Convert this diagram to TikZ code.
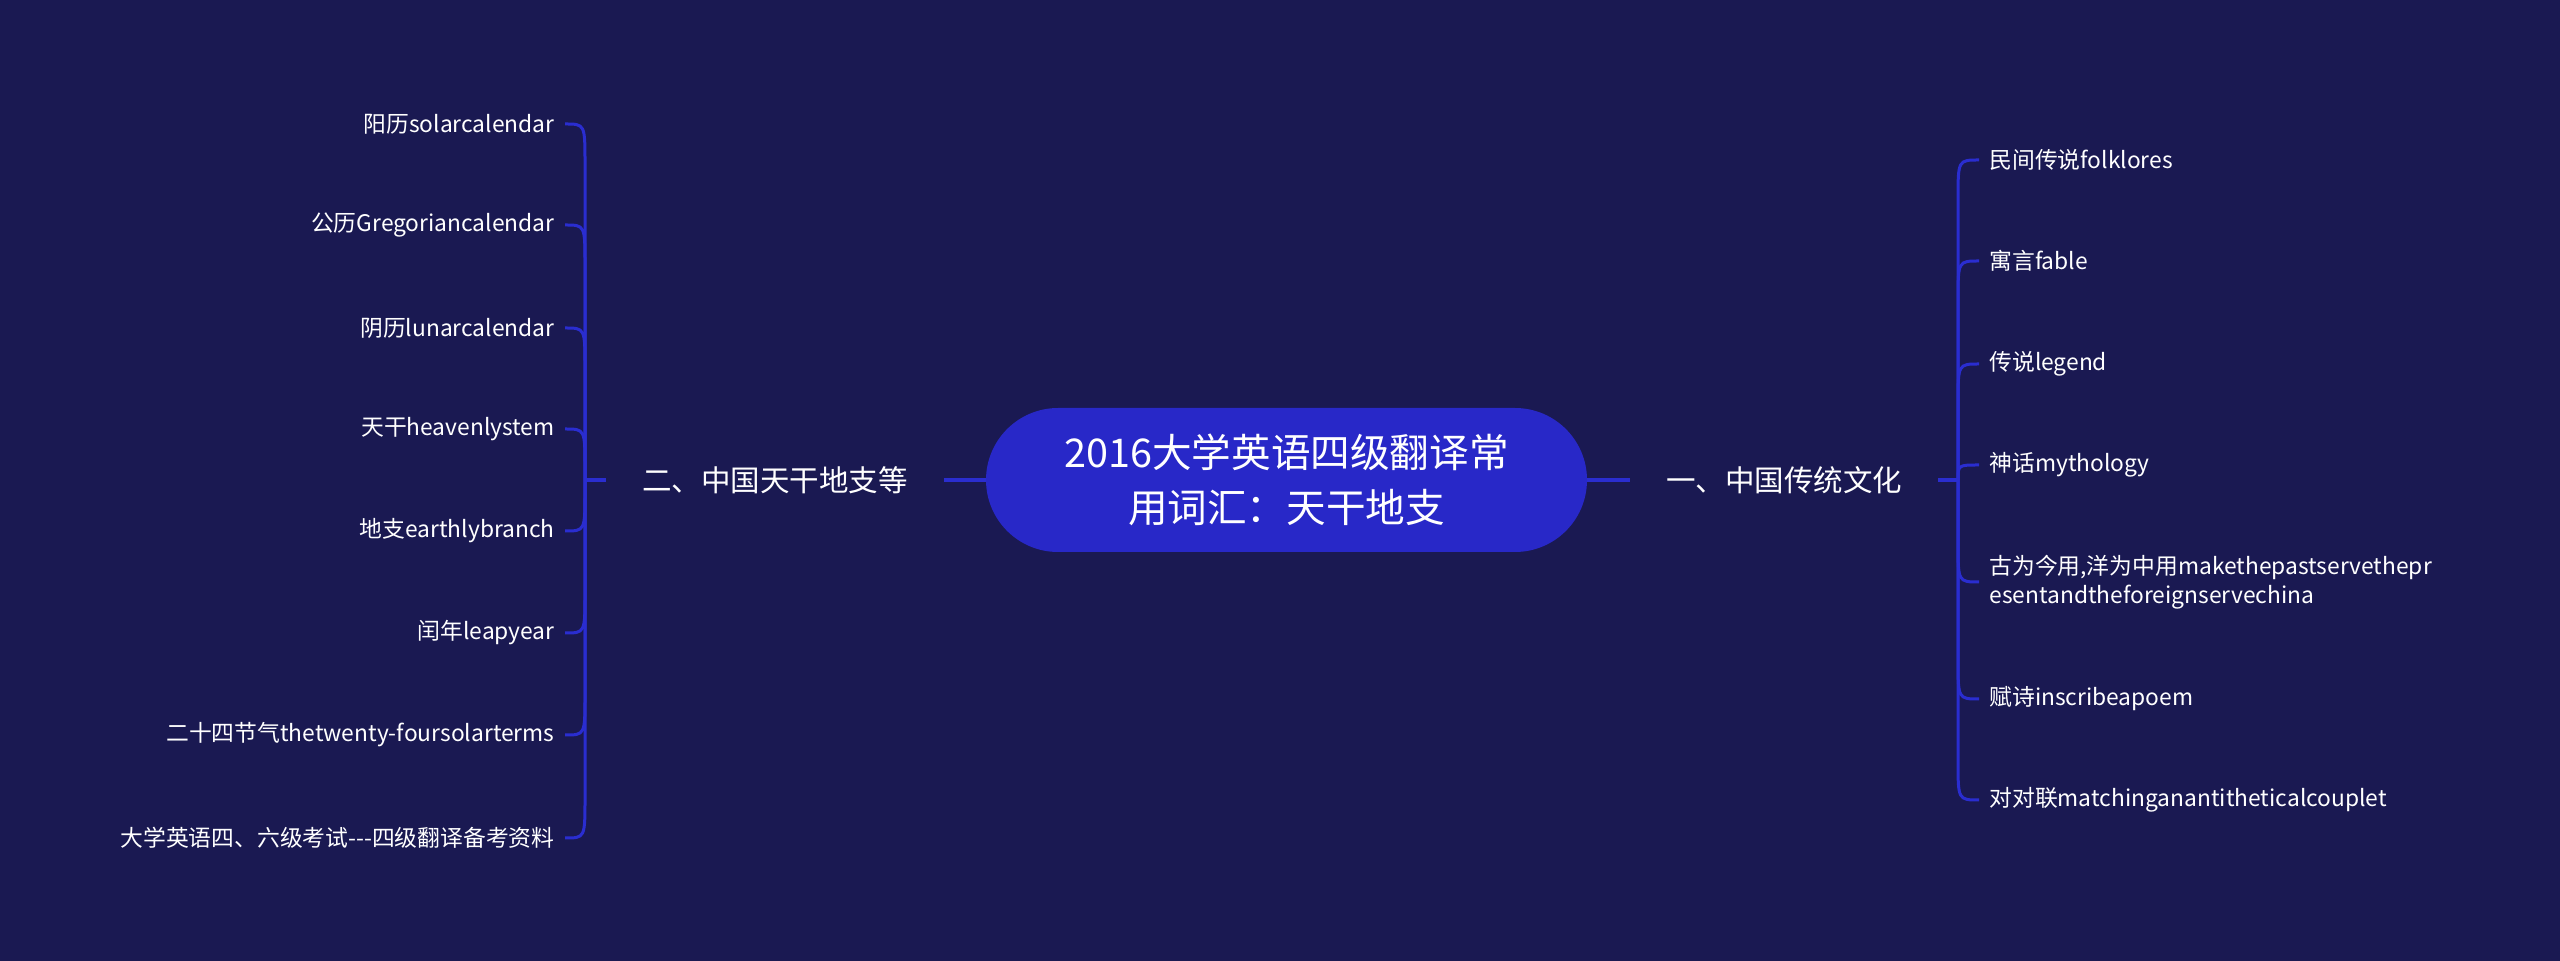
\documentclass[tikz,border=0pt]{standalone}
\usepackage{fontspec}
\setmainfont{Noto Sans CJK SC}
\definecolor{bgnavy}{RGB}{26,25,82}
\definecolor{rootblue}{RGB}{40,40,200}
\definecolor{linkblue}{RGB}{42,45,208}
\tikzset{
  root/.style={fill=rootblue, text=white, rounded corners=36pt, minimum width=300.5pt,
    minimum height=72pt, align=center, font=\fontsize{19.8}{27.5}\selectfont},
  branch/.style={text=white, inner xsep=18pt, font=\fontsize{14.75}{18}\selectfont},
  leafR/.style={text=white, anchor=west, inner xsep=5pt, align=left, font=\fontsize{11.4}{14.5}\selectfont},
  leafL/.style={leafR, anchor=east},
  stem/.style={draw=linkblue, line width=2pt},
  twig/.style={draw=linkblue, line width=1.5pt},
  curl/.style={to path={-- ([yshift=#1]\tikztostart |- \tikztotarget)
    .. controls (\tikztostart |- \tikztotarget) .. (\tikztotarget)}}
}
\begin{document}
\begin{tikzpicture}[x=0.5pt, y=-0.5pt]
  \fill[bgnavy] (0,0) rectangle (2560,961);

  \node[root] (top) at (1286.5,480) {2016大学英语四级翻译常\\用词汇：天干地支};

  \node[branch] (two) at (775,480) {二、中国天干地支等};
  \node[branch] (one) at (1784,480) {一、中国传统文化};
  \coordinate (hubL) at (585,480);
  \coordinate (hubR) at (1958,480);

  \draw[stem] (top.west) -- (two.east);
  \draw[stem] (top.east) -- (one.west);
  \draw[stem] (two.west) -- (hubL);
  \draw[stem] (one.east) -- (hubR);

  % right side
  \node[leafR] (r1) at (1979,160) {民间传说folklores};
  \node[leafR] (r2) at (1979,261) {寓言fable};
  \node[leafR] (r3) at (1979,364) {传说legend};
  \node[leafR] (r4) at (1979,465) {神话mythology};
  \node[leafR] (r5) at (1979,582) {古为今用,洋为中用makethepastservethepr\\esentandtheforeignservechina};
  \node[leafR] (r6) at (1979,699) {赋诗inscribeapoem};
  \node[leafR] (r7) at (1979,800) {对对联matchinganantitheticalcouplet};

  % left side
  \node[leafL] (l1) at (565,124) {阳历solarcalendar};
  \node[leafL] (l2) at (565,225) {公历Gregoriancalendar};
  \node[leafL] (l3) at (565,328) {阴历lunarcalendar};
  \node[leafL] (l4) at (565,429) {天干heavenlystem};
  \node[leafL] (l5) at (565,531) {地支earthlybranch};
  \node[leafL] (l6) at (565,633) {闰年leapyear};
  \node[leafL] (l7) at (565,735) {二十四节气thetwenty-foursolarterms};
  \node[leafL] (l8) at (565,838) {大学英语四、六级考试-{}-{}-四级翻译备考资料};

  \foreach \n/\s in {r1/-20pt, r2/-20pt, r3/-20pt, r4/-7.5pt, r5/20pt, r6/20pt, r7/20pt}
    \draw[twig] (hubR) to[curl=\s] (\n);
  \foreach \n/\s in {l1/-20pt, l2/-20pt, l3/-20pt, l4/-20pt, l5/20pt, l6/20pt, l7/20pt, l8/20pt}
    \draw[twig] (hubL) to[curl=\s] (\n);
\end{tikzpicture}
\end{document}
